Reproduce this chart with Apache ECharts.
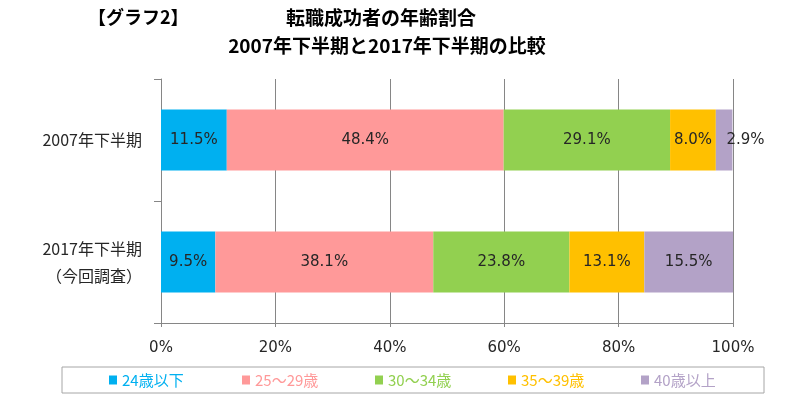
<!DOCTYPE html>
<html><head><meta charset="utf-8">
<script src="https://cdn.jsdelivr.net/npm/echarts@6/dist/echarts.min.js"></script>
<style>html,body{margin:0;padding:0;background:#fff}#c{width:806px;height:402px}</style>
</head><body><div id="c"></div>
<script>
const categories = ['2007年下半期', '2017年下半期\n（今回調査）'];
const seriesNames = ['24歳以下', '25～29歳', '30～34歳', '35～39歳', '40歳以上'];
const colors = ['#00B0F0', '#FF9999', '#92D050', '#FFC000', '#B3A2C7'];
const s24 = [11.5, 9.5];
const s25 = [48.4, 38.1];
const s30 = [29.1, 23.8];
const s35 = [8.0, 13.1];
const s40 = [2.9, 15.5];
const values = [s24, s25, s30, s35, s40];
const xTicks = [0, 20, 40, 60, 80, 100];

const chart = echarts.init(document.getElementById('c'));
const fontJP = "'Noto Sans CJK JP', sans-serif";
const series = seriesNames.map((name, i) => ({
  name, type: 'bar', stack: 'total', barWidth: 61,
  itemStyle: { color: colors[i] },
  label: {
    show: true, position: 'inside', formatter: p => p.value.toFixed(1) + '%',
    fontFamily: 'DejaVu Sans', fontSize: 15, color: '#262626'
  },
  data: values[i].map(v => v < 5 ? { value: v, label: { position: 'right', distance: -6 } } : v)
}));

chart.setOption({
  animation: false,
  title: [
    { text: '【グラフ2】', left: 88, top: 8, padding: 0,
      textStyle: { fontFamily: fontJP, fontSize: 18, fontWeight: 'bold', color: '#000' } },
    { text: '転職成功者の年齢割合', left: 381, top: 8, padding: 0, textAlign: 'center',
      textStyle: { fontFamily: fontJP, fontSize: 19, fontWeight: 'bold', color: '#000' } },
    { text: '2007年下半期と2017年下半期の比較', left: 387, top: 36, padding: 0, textAlign: 'center',
      textStyle: { fontFamily: fontJP, fontSize: 19, fontWeight: 'bold', color: '#000' } }
  ],
  legend: {
    left: 62, top: 367, orient: 'horizontal',
    padding: [5, 0, 5, 47], itemGap: 10, itemWidth: 8, itemHeight: 9,
    borderColor: '#a6a6a6', borderWidth: 1,
    icon: 'rect',
    data: seriesNames.map((n, i) => ({ name: n, textStyle: { color: colors[i] } })),
    textStyle: { fontFamily: fontJP, fontSize: 15, width: 110, lineHeight: 16 },
    selectedMode: false
  },
  grid: { left: 161, right: 73, top: 79, bottom: 79 },
  xAxis: {
    type: 'value', min: 0, max: 100, interval: 20,
    axisLine: { show: true, lineStyle: { color: '#868686' } },
    axisTick: { show: true, length: 4, lineStyle: { color: '#868686' } },
    splitLine: { show: true, lineStyle: { color: '#868686' } },
    axisLabel: { formatter: v => v + '%', margin: 18, fontFamily: 'DejaVu Sans', fontSize: 15, color: '#262626' }
  },
  yAxis: {
    type: 'category', inverse: true, data: categories,
    axisLine: { show: true, lineStyle: { color: '#868686' } },
    axisTick: { show: true, length: 7, lineStyle: { color: '#868686' } },
    axisLabel: { margin: 19, fontFamily: fontJP, fontSize: 16, lineHeight: 27, color: '#262626' }
  },
  series
});
</script></body></html>
